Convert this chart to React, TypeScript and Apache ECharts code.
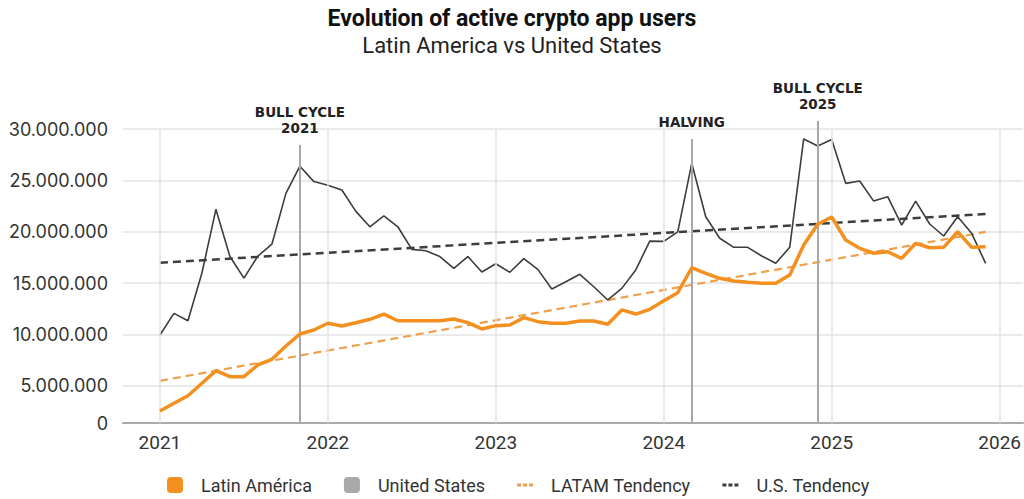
import React, { useEffect, useRef } from "react";
import * as echarts from "echarts";

// Monthly active users, Jan 2021 (index 0) to Dec 2025 (index 59)
const LATAM_USERS = [
  2.56, 3.31, 4.05, 5.26, 6.49, 5.9, 5.9, 7.04, 7.59, 8.89, 10.06, 10.45,
  11.1, 10.84, 11.16, 11.49, 12.0, 11.35, 11.35, 11.35, 11.35, 11.52, 11.16, 10.55,
  10.87, 10.93, 11.65, 11.26, 11.1, 11.1, 11.32, 11.32, 11.0, 12.4, 12.0, 12.46,
  13.3, 14.08, 16.51, 15.97, 15.48, 15.22, 15.09, 14.99, 14.99, 15.8, 18.72, 20.74,
  21.45, 19.21, 18.4, 17.92, 18.07, 17.43, 18.89, 18.46, 18.5, 20.02, 18.5, 18.56,
].map((v) => v * 1e6);

const US_USERS = [
  9.96, 12.07, 11.35, 16.0, 22.2, 17.6, 15.5, 17.65, 18.8, 23.75, 26.4, 24.9,
  24.55, 24.08, 22.0, 20.5, 21.55, 20.5, 18.3, 18.17, 17.6, 16.45, 17.6, 16.1,
  16.9, 16.07, 17.4, 16.35, 14.44, 15.15, 15.87, 14.66, 13.37, 14.5, 16.3, 19.1,
  19.08, 20.0, 26.68, 21.48, 19.38, 18.5, 18.5, 17.65, 16.94, 18.5, 29.05, 28.36,
  29.0, 24.73, 24.96, 23.0, 23.43, 20.67, 23.0, 20.77, 19.6, 21.48, 19.86, 16.94,
].map((v) => v * 1e6);

// Linear trend end points (first and last month)
const LATAM_TREND = [5.5e6, 20.0e6];
const US_TREND = [17.0e6, 21.75e6];

const YEARS = [2021, 2022, 2023, 2024, 2025, 2026];
const Y_TICKS = [5e6, 10e6, 15e6, 20e6, 25e6, 30e6];

const EVENTS = [
  { month: 10, label: "BULL CYCLE\n2021", top: 28.46e6 },
  { month: 38, label: "HALVING", top: 29.05e6 },
  { month: 47, label: "BULL CYCLE\n2025", top: 30.8e6 },
];

const Y_MIN = 1.39e6;
const Y_MAX = 31.2e6;
const X_MIN = -2.64;
const X_MAX = 61.67;

const ORANGE = "#f39020";
const ORANGE_TREND = "#eea04c";
const DARK = "#3d3d3d";
const GRID = "#e3e3e3";

const DASH_ICON = "path://M0,0h4v3h-4z M6,0h4v3h-4z M12,0h4v3h-4z";

const fmt = (v: number) =>
  v <= Y_MIN + 1 ? "0" : String(Math.round(v)).replace(/\B(?=(\d{3})+(?!\d))/g, ".");

export default function App() {
  const ref = useRef<HTMLDivElement>(null);

  useEffect(() => {
    if (!ref.current) return;
    const chart = echarts.init(ref.current, null, { renderer: "svg" });
    const months = LATAM_USERS.map((_, i) => i);
    const last = months.length - 1;
    const yearIdx = YEARS.map((_, k) => k * 12);

    chart.setOption({
      animation: false,
      backgroundColor: "#ffffff",
      title: {
        text: "Evolution of active crypto app users",
        subtext: "Latin America vs United States",
        left: "center",
        top: 2,
        itemGap: 4,
        textStyle: { fontFamily: "Roboto", fontWeight: "bold", fontSize: 23, color: "#111" },
        subtextStyle: { fontFamily: "Roboto", fontSize: 22, color: "#222" },
      },
      legend: {
        top: 471,
        left: 162,
        itemWidth: 16,
        itemHeight: 16,
        itemGap: 32,
        textStyle: { fontFamily: "Roboto", fontSize: 18, color: "#333", padding: [0, 0, 0, 13] },
        data: [
          { name: "Latin América", icon: "roundRect", itemStyle: { color: ORANGE, borderWidth: 0 } },
          { name: "United States", icon: "roundRect", itemStyle: { color: "#a9a9a9", borderWidth: 0 } },
          { name: "LATAM Tendency", icon: DASH_ICON, itemStyle: { color: ORANGE_TREND, borderWidth: 0 } },
          { name: "U.S. Tendency", icon: DASH_ICON, itemStyle: { color: DARK, borderWidth: 0 } },
        ],
      },
      grid: { left: 123, right: 0, top: 116.9, bottom: 76, containLabel: false },
      xAxis: {
        type: "value",
        min: X_MIN,
        max: X_MAX,
        axisLine: { show: true, lineStyle: { color: "#aaaaaa", width: 2 } },
        axisTick: { show: false, customValues: yearIdx },
        splitLine: { show: false },
        axisLabel: {
          customValues: yearIdx,
          formatter: (v: number) => String(YEARS[Math.round(v / 12)]),
          fontFamily: "Roboto",
          fontSize: 19,
          color: "#333",
          margin: 10,
        },
      },
      yAxis: {
        type: "value",
        min: Y_MIN,
        max: Y_MAX,
        axisLine: { show: false },
        axisTick: { show: false, customValues: [Y_MIN, ...Y_TICKS] },
        splitLine: { show: true, lineStyle: { color: GRID, width: 1.5 } },
        axisLabel: {
          customValues: [Y_MIN, ...Y_TICKS],
          formatter: fmt,
          fontFamily: "Inter",
          fontSize: 18,
          color: "#333",
          margin: 15,
        },
      },
      series: [
        {
          name: "grid-years",
          type: "line",
          data: [],
          z: 1,
          silent: true,
          markLine: {
            silent: true,
            symbol: ["none", "none"],
            label: { show: false },
            lineStyle: { color: GRID, width: 1.5, type: "solid" },
            data: yearIdx.map((m) => [{ coord: [m, Y_MIN] }, { coord: [m, Y_TICKS[Y_TICKS.length - 1]] }]),
          },
        },
        {
          name: "events",
          type: "line",
          data: [],
          z: 2,
          silent: true,
          markLine: {
            silent: true,
            symbol: ["none", "circle"],
            symbolSize: [0, 6],
            lineStyle: { color: "#a8a8a8", width: 2, type: "solid" },
            label: {
              show: true,
              position: "end",
              distance: 9,
              fontFamily: "DejaVu Sans",
              fontWeight: "bold",
              fontSize: 13.5,
              lineHeight: 16,
              color: "#222",
            },
            data: EVENTS.map((e) => [
              { coord: [e.month, Y_MIN] },
              { coord: [e.month, e.top], label: { formatter: e.label } },
            ]),
          },
        },
        {
          name: "U.S. Tendency",
          type: "line",
          data: [[0, US_TREND[0]], [last, US_TREND[1]]],
          symbol: "none",
          z: 3,
          lineStyle: { color: DARK, width: 2.5, type: [8, 5] },
          itemStyle: { color: DARK },
        },
        {
          name: "LATAM Tendency",
          type: "line",
          data: [[0, LATAM_TREND[0]], [last, LATAM_TREND[1]]],
          symbol: "none",
          z: 3,
          lineStyle: { color: ORANGE_TREND, width: 2.2, type: [8, 5] },
          itemStyle: { color: ORANGE_TREND },
        },
        {
          name: "United States",
          type: "line",
          data: months.map((m) => [m, US_USERS[m]]),
          symbol: "none",
          z: 4,
          lineStyle: { color: DARK, width: 1.6 },
          itemStyle: { color: "#a9a9a9" },
        },
        {
          name: "Latin América",
          type: "line",
          data: months.map((m) => [m, LATAM_USERS[m]]),
          symbol: "none",
          z: 5,
          lineStyle: { color: ORANGE, width: 3.5 },
          itemStyle: { color: ORANGE },
        },
      ],
    });

    return () => chart.dispose();
  }, []);

  return (
    <div
      ref={ref}
      style={{ position: "fixed", left: 0, top: 0, width: 1024, height: 499, background: "#fff" }}
    />
  );
}
